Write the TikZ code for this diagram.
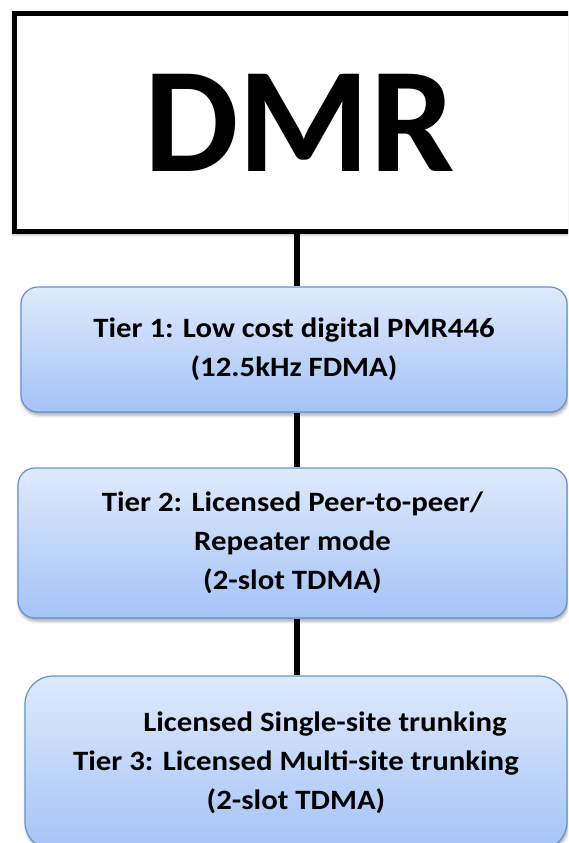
\documentclass[tikz,border=0pt]{standalone}
\usepackage{fontspec}
\setmainfont{Carlito}
\newfontfamily\tierfont{Carlito}[FakeStretch=1.1]
\usetikzlibrary{shadows.blur}
\definecolor{tiertop}{RGB}{222,234,252}
\definecolor{tierbottom}{RGB}{164,195,246}
\definecolor{tierline}{RGB}{104,144,208}
\tikzset{
	headbox/.style={draw=black, line width=5pt, fill=white, inner sep=0pt,
		font=\fontsize{150}{150}\selectfont\bfseries,
		blur shadow={shadow xshift=-1pt, shadow yshift=-3pt, shadow opacity=35, shadow blur radius=3pt}},
	tierbox/.style={draw=tierline, line width=1.2pt, rounded corners=17pt,
		top color=tiertop, bottom color=tierbottom, inner sep=0pt, align=center,
		font=\tierfont\bfseries\fontsize{28}{39}\selectfont,
		blur shadow={shadow xshift=1pt, shadow yshift=-3pt, shadow opacity=35, shadow blur radius=3pt}},
	link/.style={line width=6pt}
}

\begin{document}
\begin{tikzpicture}[x=1pt, y=-1pt]
	% page 568 x 843, y grows downwards
	\useasboundingbox (0,0) rectangle (568,843);
	\clip (0,0) rectangle (568,843);
	\coordinate (spine) at (296.5,0);
	
	% title box, runs off the right edge
	\node[headbox, minimum width=571pt, minimum height=218pt] (dmr) at (299.5,122.5) {DMR};
	
	% the three tiers
	\node[tierbox, minimum width=546pt, minimum height=125pt] (tierone) at (294,349.5)
		{Tier 1: Low cost digital PMR446\\(12.5kHz FDMA)};
	\node[tierbox, minimum width=549pt, minimum height=150pt] (tiertwo) at (292.5,543)
		{Tier 2: Licensed Peer-to-peer/\\Repeater mode\\(2-slot TDMA)};
	\node[tierbox, rounded corners=28pt, minimum width=542pt, minimum height=174pt] (tierthree) at (296,763)
		{\hspace*{58pt}Licensed Single-site trunking\\Tier 3: Licensed Multi-site trunking\hspace*{43pt}\\(2-slot TDMA)};
	
	% connectors
	\draw[link] (dmr.south -| spine) -- (tierone.north -| spine);
	\draw[link] (tierone.south -| spine) -- (tiertwo.north -| spine);
	\draw[link] (tiertwo.south -| spine) -- (tierthree.north -| spine);
\end{tikzpicture}
\end{document}
